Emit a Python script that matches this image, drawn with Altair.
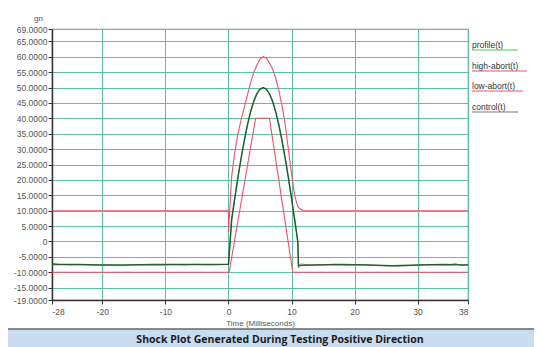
import altair as alt
import pandas as pd

# ---- data ----
profile_t = [-28, -24, -20, -16, -12, -8, -4, 0, 0.5, 1, 1.5, 2, 2.5, 3, 3.5, 4, 4.5, 5, 5.5,
             6, 6.5, 7, 7.5, 8, 8.5, 9, 9.5, 10, 10.5, 11, 11.1, 14, 18, 22, 26, 30, 34, 38]
profile_g = [-7.5, -7.5, -7.6, -7.6, -7.5, -7.5, -7.5, -7.4, 7.1, 14.1, 20.8, 27.0, 32.7, 37.8, 42.1, 45.5, 48.0, 49.5, 50.0,
             49.5, 48.0, 45.5, 42.1, 37.8, 32.7, 27.0, 20.8, 14.1, 7.1, 0.0, -7.8, -7.6, -7.5, -7.6, -7.9, -7.6, -7.5, -7.6]

control_t = [-28, -27, -25, -23, -21, -19, -17, -15, -13, -11, -9, -7, -5, -3, -1, 0, 0.5, 1, 1.5, 2, 2.5, 3, 3.5, 4, 4.5, 5, 5.5,
             6, 6.5, 7, 7.5, 8, 8.5, 9, 9.5, 10, 10.5, 11, 11.1, 11.4, 13, 15, 17, 19, 21, 23, 25, 27, 29, 31, 33, 35, 36, 37, 38]
control_g = [-7.0, -7.4, -7.6, -7.5, -7.7, -7.6, -7.8, -7.5, -7.6, -7.7, -7.5, -7.6, -7.4, -7.6, -7.5, -7.4, 7.0, 14.0, 20.7, 26.9, 32.6, 37.7, 42.0, 45.4, 47.9, 49.4, 49.9,
             49.4, 47.9, 45.4, 42.0, 37.7, 32.6, 26.9, 20.7, 14.0, 7.0, -0.2, -8.6, -7.3, -7.6, -7.5, -7.4, -7.6, -7.5, -7.7, -7.9, -8.0, -7.8, -7.6, -7.5, -7.6, -7.2, -7.8, -7.5]

high_t = [-28, 0, 0, 0.5, 1, 1.5, 2, 2.5, 3, 3.5, 4, 4.5, 5, 5.5, 6, 6.5, 7, 7.5, 8, 8.5, 9, 9.5, 10, 10.5, 11, 11.5, 12, 38]
high_g = [10, 10, 3, 21, 29, 35, 39.5, 43.5, 47.5, 51.5, 54.8, 57.2, 59.2, 60, 59.5, 58, 56, 53, 49, 44, 38, 30, 22, 15, 11.3, 10.4, 10, 10]

low_t = [-28, 0.1, 4.3, 6.5, 10.2, 38]
low_g = [-10, -10, 40, 40, -10, -10]

series_names = ["profile(t)", "high-abort(t)", "low-abort(t)", "control(t)"]
line_colors = ["#1f7a35", "#f0506e", "#f0506e", "#333333"]
legend_colors = ["#44d444", "#f0506e", "#f0506e", "#777777"]

y_ticks = [69, 65, 60, 55, 50, 45, 40, 35, 30, 25, 20, 15, 10, 5, 0, -5, -10, -15, -19]
x_ticks = [-28, -20, -10, 0, 10, 20, 30, 38]

rows = []
for name, ts, gs in [("profile(t)", profile_t, profile_g), ("high-abort(t)", high_t, high_g),
                     ("low-abort(t)", low_t, low_g), ("control(t)", control_t, control_g)]:
    for i, (t, g) in enumerate(zip(ts, gs)):
        rows.append({"series": name, "t": t, "g": g, "i": i})
df = pd.DataFrame(rows)

W, H = 416, 271
FONT = "Liberation Sans"
GRID = "#5cbf9f"
LBL = "#555"

xs = alt.Scale(domain=[-28, 38], nice=False, zero=False)
ys = alt.Scale(domain=[-19, 69], nice=False, zero=False)

base = alt.Chart(df).encode(
    x=alt.X("t:Q", scale=xs, axis=alt.Axis(
        values=x_ticks,
        labelExpr="(datum.value < 0 ? '-' : '') + format(abs(datum.value), 'd')",
        title="Time (Milliseconds)", titleFontSize=8,
        titleFontWeight="normal", titleColor=LBL, titlePadding=4, titleFont=FONT,
        labelFont=FONT, labelFontSize=8.5, labelColor=LBL, labelPadding=3,
        tickSize=4, tickColor="#333", domainColor="#333", domainWidth=1.5,
        grid=True, gridColor=GRID, gridWidth=1)),
    y=alt.Y("g:Q", scale=ys, axis=alt.Axis(
        values=y_ticks,
        labelExpr="datum.value == 0 ? '0' : (datum.value < 0 ? '-' : '') + format(abs(datum.value), '.4f')",
        title="gn", titleAngle=0, titleX=-14, titleY=-7, titleAlign="center",
        titleFontSize=8, titleFontWeight="normal", titleColor=LBL, titleFont=FONT,
        labelFont=FONT, labelFontSize=8.5, labelColor=LBL, labelPadding=1,
        tickSize=4, tickColor="#333", domainColor="#333", domainWidth=1.5,
        grid=True, gridColor=GRID, gridWidth=1)),
    order="i:Q",
)

def line_layer(name, color, width, opacity=1.0):
    return base.transform_filter(alt.datum.series == name).mark_line(
        color=color, strokeWidth=width, opacity=opacity, clip=True)

layers = [
    line_layer("high-abort(t)", line_colors[1], 1.1),
    line_layer("low-abort(t)", line_colors[2], 1.1),
    line_layer("profile(t)", line_colors[0], 1.5),
    line_layer("control(t)", line_colors[3], 0.9, 0.6),
]

one = pd.DataFrame({"a": [0]})

# legend at right
leg_y = [16, 37, 57, 78]
leg_len = [46, 55, 51, 46]
for name, col, yy, ln in zip(series_names, legend_colors, leg_y, leg_len):
    layers.append(alt.Chart(one).mark_text(
        align="left", baseline="middle", font=FONT, fontSize=8.5, color="#333").encode(
        x=alt.value(W + 4), y=alt.value(yy), text=alt.value(name)))
    layers.append(alt.Chart(one).mark_rule(color=col, strokeWidth=1.2).encode(
        x=alt.value(W + 4), x2=alt.value(W + 4 + ln), y=alt.value(yy + 5)))

# caption band at bottom
layers.append(alt.Chart(one).mark_rect(color="#c9dcf0", stroke="#666", strokeWidth=1.5).encode(
    x=alt.value(-60), x2=alt.value(W + 90), y=alt.value(H + 29), y2=alt.value(H + 60)))
layers.append(alt.Chart(one).mark_text(
    align="center", baseline="middle", font="Open Sans", fontSize=10.5, fontWeight="bold",
    color="#1a1a1a").encode(
    x=alt.value(228), y=alt.value(H + 40),
    text=alt.value("Shock Plot Generated During Testing Positive Direction")))

chart = alt.layer(*layers).properties(
    width=W, height=H,
    autosize=alt.AutoSizeParams(type="none"),
    padding={"left": 44, "top": 21, "right": 66, "bottom": 47},
    background="white",
).configure_view(stroke="#999", strokeWidth=1.2)

chart.save("out.html", embed_options={"renderer": "svg", "actions": False})
